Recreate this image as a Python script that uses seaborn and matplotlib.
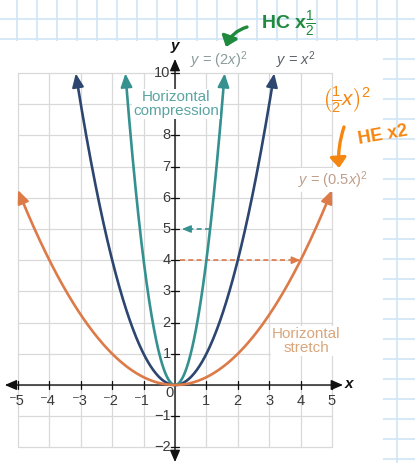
import numpy as np
import pandas as pd
import matplotlib
matplotlib.use("Agg")
import matplotlib.pyplot as plt
import seaborn as sns
from matplotlib.patches import Rectangle, FancyArrowPatch

sns.set_theme(style="white")
plt.rcParams['font.family'] = ['Liberation Sans', 'DejaVu Sans']
plt.rcParams['mathtext.fontset'] = 'custom'
plt.rcParams['mathtext.rm'] = 'Liberation Sans'
plt.rcParams['mathtext.it'] = 'Liberation Sans:italic'
plt.rcParams['mathtext.bf'] = 'Liberation Sans:bold'

# Parabolas y = (k x)^2 and the half-width of the drawn domain
curve_names = ["y = x^2", "y = (2x)^2", "y = (0.5x)^2"]
scale_factors = [1.0, 2.0, 0.5]
domain_half_width = [3.16, 1.58, 5.0]
curve_colors = ["#2c4670", "#35918f", "#dc7a48"]

# Axis ticks (the 9 label sits under the "Horizontal compression" note)
x_ticks = [-5, -4, -3, -2, -1, 1, 2, 3, 4, 5]
x_tick_labels = ["\u207b5", "\u207b4", "\u207b3", "\u207b2", "\u207b1", "1", "2", "3", "4", "5"]
y_ticks = [-2, -1, 1, 2, 3, 4, 5, 6, 7, 8, 9, 10]
y_tick_labels = ["\u22122", "\u22121", "1", "2", "3", "4", "5", "6", "7", "8", "", "10"]

# Dashed horizontal guides: height, start x, end x (arrowhead at end)
guide_heights = [5, 4]
guide_start = [1.12, 0.15]
guide_end = [0.22, 4.0]
guide_colors = ["#35918f", "#dc7a48"]

# pixel geometry of the figure
W, H = 415, 463
X0_PX, Y0_PX = 175.0, 385.0
PX_PER_X, PX_PER_Y = 31.4, 31.2

fig = plt.figure(figsize=(W / 100, H / 100), dpi=100, facecolor="white")

# notebook paper behind the chart
bg = fig.add_axes([0, 0, 1, 1])
bg.set_xlim(0, W)
bg.set_ylim(H, 0)
bg.axis("off")
paper_blue = "#cfe5f6"
for gx in np.arange(16.7, W, 20):
    bg.plot([gx, gx], [0, H], color=paper_blue, lw=1.2, zorder=0)
for gy in np.arange(-0.7, H, 20):
    bg.plot([0, W], [gy, gy], color=paper_blue, lw=1.2, zorder=0)
bg.add_patch(Rectangle((0, 41), 383, H - 41, facecolor="white", edgecolor="none", zorder=1))

# chart axes, in data units
ax = fig.add_axes([0, 0, 1, 1])
ax.set_xlim(-X0_PX / PX_PER_X, (W - X0_PX) / PX_PER_X)
ax.set_ylim(-(H - Y0_PX) / PX_PER_Y, Y0_PX / PX_PER_Y)
ax.patch.set_alpha(0)
ax.axis("off")

grid_c = "#d9d9d9"
for gx in range(-5, 6):
    ax.plot([gx, gx], [-2, 10], color=grid_c, lw=0.9, zorder=1)
for gy in range(-2, 11):
    ax.plot([-5, 5], [gy, gy], color=grid_c, lw=0.9, zorder=1)

# axes with arrowheads
axis_style = "<|-|>,head_length=0.65,head_width=0.28"
ax.add_patch(FancyArrowPatch((-5.42, 0), (5.35, 0), arrowstyle=axis_style, mutation_scale=11,
                             color="#111111", lw=1.0, shrinkA=0, shrinkB=0, zorder=3))
ax.add_patch(FancyArrowPatch((0, -2.47), (0, 10.45), arrowstyle=axis_style, mutation_scale=11,
                             color="#111111", lw=1.0, shrinkA=0, shrinkB=0, zorder=3))
ax.text(5.55, 0.02, "x", fontsize=11, style="italic", fontweight="bold", color="#111111",
        ha="center", va="center", zorder=4)
ax.text(0.0, 10.85, "y", fontsize=11, style="italic", fontweight="bold", color="#111111",
        ha="center", va="center", zorder=4)

tick_c = "#3a3a3a"
for t, lab in zip(x_ticks, x_tick_labels):
    ax.plot([t, t], [-0.13, 0.13], color="#111111", lw=0.9, zorder=3)
    off = -0.07 if t < 0 else 0.0
    ax.text(t + off, -0.5, lab, fontsize=10.5, color=tick_c, ha="center", va="center", zorder=4)
ax.text(-0.16, -0.27, "0", fontsize=10.5, color=tick_c, ha="center", va="center", zorder=4)
for t, lab in zip(y_ticks, y_tick_labels):
    ax.plot([-0.14, 0.14], [t, t], color="#111111", lw=0.9, zorder=3)
    if lab:
        ax.text(-0.14, t, lab, fontsize=10.5, color=tick_c, ha="right", va="center", zorder=4)

# parabolas, with arrowheads at both ends
head_px = 9.0
rows = []
ends = []
for name, k, xl in zip(curve_names, scale_factors, domain_half_width):
    slope_px = 2 * k * k * xl * PX_PER_Y / PX_PER_X
    trim = head_px / np.sqrt(1 + slope_px ** 2) / PX_PER_X
    xs = np.linspace(-(xl - trim), xl - trim, 300)
    for xv in xs:
        rows.append({"x": xv, "y": (k * xv) ** 2, "curve": name})
    for sgn in (-1, 1):
        xb = sgn * (xl - trim)
        xt = sgn * xl
        ends.append((name, (xb, (k * xb) ** 2), (xt, (k * xt) ** 2)))
df = pd.DataFrame(rows)
palette = dict(zip(curve_names, curve_colors))
sns.lineplot(data=df, x="x", y="y", hue="curve", palette=palette, sort=False,
             estimator=None, legend=False, ax=ax, linewidth=1.9, zorder=5)
for line in ax.get_lines()[-len(curve_names):]:
    line.set_solid_capstyle("butt")
for name, base, tip in ends:
    ax.add_patch(FancyArrowPatch(base, tip, arrowstyle="-|>,head_length=0.75,head_width=0.32",
                                 mutation_scale=11, color=palette[name], lw=1.5,
                                 shrinkA=0, shrinkB=0, zorder=6))

# dashed guides
for yv, xs0, xs1, c in zip(guide_heights, guide_start, guide_end, guide_colors):
    d = np.sign(xs1 - xs0)
    ax.plot([xs0, xs1 - d * 0.2], [yv, yv], color=c, lw=1.2, ls=(0, (3, 2)), zorder=4)
    ax.add_patch(FancyArrowPatch((xs1 - d * 0.25, yv), (xs1, yv),
                                 arrowstyle="-|>,head_length=0.6,head_width=0.25",
                                 mutation_scale=9, color=c, lw=1.0, shrinkA=0, shrinkB=0, zorder=4))

# curve labels
box = dict(facecolor="white", edgecolor="none", pad=0.5)
ax.text(1.40, 10.42, r"$y$ = (2$x$)$^2$", fontsize=10.5, color="#8a9b9b", ha="center", va="center", zorder=7)
ax.text(3.85, 10.42, r"$y$ = $x^2$", fontsize=10.5, color="#5b606b", ha="center", va="center", zorder=7)
ax.text(6.13, 6.57, r"$y$ = (0.5$x$)$^2$", fontsize=10.5, color="#bf9e8a", ha="right", va="center",
        bbox=box, zorder=7)
ax.text(0.03, 9.0, "Horizontal\ncompression", fontsize=11, color="#5aa4a2", ha="center", va="center",
        linespacing=1.0, bbox=box, zorder=7)
ax.text(4.17, 1.41, "Horizontal\nstretch", fontsize=11, color="#d9a67c", ha="center", va="center",
        linespacing=1.0, bbox=box, zorder=7)

# pen notes on top
green = "#1f8a3d"
orange = "#f5860f"
bg2 = fig.add_axes([0, 0, 1, 1])
bg2.set_xlim(0, W)
bg2.set_ylim(H, 0)
bg2.axis("off")
bg2.patch.set_alpha(0)
bg2.text(288, 24, r"HC x$\frac{1}{2}$", fontsize=14, fontweight="bold", color=green,
         ha="center", va="center")
bg2.add_patch(FancyArrowPatch((247, 27), (226, 47), connectionstyle="arc3,rad=0.25",
                              arrowstyle="-|>,head_length=0.5,head_width=0.4", mutation_scale=12,
                              color=green, lw=2.4, shrinkA=0, shrinkB=0))
bg2.text(347, 100, r"$\left(\frac{1}{2}x\right)^2$", fontsize=15, color=orange,
         ha="center", va="center")
bg2.text(383, 135, "HE x2", fontsize=13, fontweight="bold", color=orange, ha="center", va="center",
         rotation=10)
bg2.add_patch(FancyArrowPatch((344, 127), (339, 168), connectionstyle="arc3,rad=0.1",
                              arrowstyle="-|>,head_length=0.5,head_width=0.4", mutation_scale=12,
                              color=orange, lw=2.4, shrinkA=0, shrinkB=0))

fig.savefig("out.png", dpi=100, facecolor="white")
